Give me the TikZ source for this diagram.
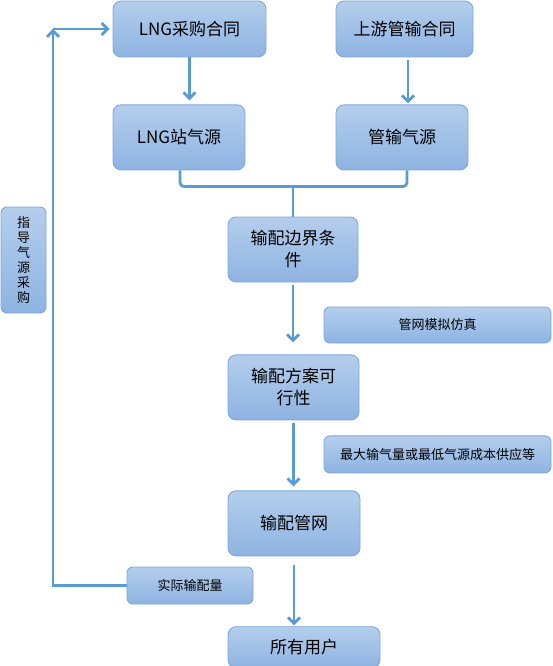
\documentclass[tikz,border=0pt]{standalone}
\usepackage{fontspec}
\setmainfont{Noto Sans CJK SC}
\usepackage{xcolor}
\usepackage{tikz}
\usetikzlibrary{arrows.meta, positioning, calc}

\definecolor{boxtop}{HTML}{B4CEEC}
\definecolor{boxbot}{HTML}{8EB3E2}
\definecolor{boxline}{HTML}{7DA8DB}
\definecolor{flowline}{HTML}{5B9BD5}

\begin{document}
\begin{tikzpicture}[
  x=1pt, y=-1pt,
  every node/.style={font=\fontsize{17}{22}\selectfont},
  box/.style={rectangle, rounded corners=8pt, draw=boxline, line width=0.9pt,
              top color=boxtop, bottom color=boxbot, inner sep=0pt,
              minimum width=132pt, minimum height=65pt, align=center},
  note/.style={box, rounded corners=6pt, minimum height=37pt,
               font=\fontsize{13}{15}\selectfont},
  flow/.style={flowline, line width=2.8pt},
  arrow/.style={flow, -{Straight Barb[length=6pt,width=12pt]}}
]
  \useasboundingbox (0,0) rectangle (552,666);
  % top row: contracts and sources
  \node[box, minimum width=153pt, minimum height=56pt] (lngbuy) at (189.5,29)
        {LNG采购合同};
  \node[box, minimum width=137pt, minimum height=56pt] (upbuy) at (404.5,29)
        {上游管输合同};
  \node[box, below=47pt of lngbuy, xshift=-10.5pt] (lngsrc) {LNG站气源};
  \node[box, below=47pt of upbuy, xshift=-2.5pt] (pipesrc) {管输气源};
  % main column
  \node[box, minimum width=130pt] (bound) at (293,249.5) {输配边界条\\件};
  \node[box, minimum width=131pt, below=72pt of bound, xshift=0.5pt] (plan)
        {输配方案可\\行性};
  \node[box, below=70pt of plan, xshift=0.5pt] (net) {输配管网};
  \node[box, minimum width=152pt, minimum height=41pt, below=70pt of net,
        xshift=10pt] (users) {所有用户};
  % side notes
  \node[note, minimum width=227pt, minimum height=36pt] (sim) at (437.5,325)
        {管网模拟仿真};
  \node[note, minimum width=227pt, below=92pt of sim] (maxq)
        {最大输气量或最低气源成本供应等};
  \node[note, minimum width=45pt, minimum height=106pt] (guide) at (23.5,260)
        {指\\导\\气\\源\\采\\购};
  \node[note, minimum width=126pt] (actual) at (190,585.5) {实际输配量};
  \coordinate (corner) at (53,29);
  \coordinate (join) at (293,186.5);
  % connectors
  \draw[arrow, shorten >=4pt] (lngbuy.south) -- (lngsrc.north -| lngbuy.south);
  \draw[arrow, shorten <=3pt, shorten >=1pt] ([xshift=3.5pt]upbuy.south)
        -- ([xshift=6pt]pipesrc.north);
  \draw[flow, rounded corners=4pt] ([xshift=1pt]lngsrc.south) |- (join)
        -| ([xshift=5pt]pipesrc.south);
  \draw[flow] (join) -- (bound.north);
  \draw[arrow, shorten <=3pt, shorten >=12pt] (bound.south) -- (plan.north -| bound.south);
  \draw[arrow, shorten <=3pt, shorten >=4pt] (plan.south) -- (net.north -| plan.south);
  \draw[arrow, shorten <=9pt, shorten >=1pt] (net.south) -- (users.north -| net.south);
  \draw[arrow] (actual.west) -| (corner);
  \draw[arrow, shorten >=3pt] (corner) -- (lngbuy.west);
\end{tikzpicture}
\end{document}
